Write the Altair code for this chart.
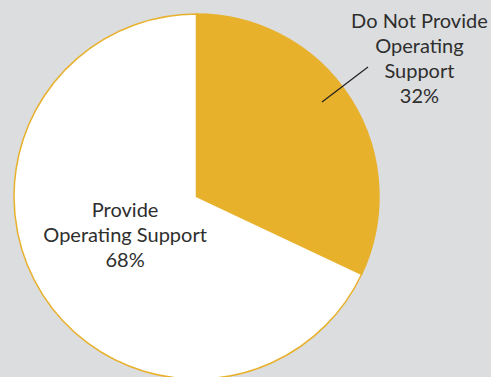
import altair as alt
import pandas as pd

categories = ["Do Not Provide Operating Support", "Provide Operating Support"]
values = [32, 68]
labels = ["Do Not Provide\nOperating\nSupport\n32%", "Provide\nOperating Support\n68%"]
colors = ["#e8b12c", "#ffffff"]

df = pd.DataFrame({"category": categories, "value": values, "label": labels, "order": [0, 1]})

base = alt.Chart(df).encode(
    theta=alt.Theta("value:Q", stack=True),
    order=alt.Order("order:Q"),
    x=alt.value(196.5),
    y=alt.value(196.5),
)

pie = base.mark_arc(radius=182.5, stroke="#e8b12c", strokeWidth=1.5).encode(
    color=alt.Color("category:N", scale=alt.Scale(domain=categories, range=colors), legend=None)
)

txt_style = dict(font="Lato", fontSize=20, color="#2e2e2e", lineBreak="\n", lineHeight=25,
                 align="center", baseline="middle")

t1 = base.mark_text(radius=264, dy=-33, **txt_style).encode(
    text=alt.condition(alt.datum.category == categories[0], "label:N", alt.value(""))
)
t2 = base.mark_text(radius=81, dy=-29, dx=-3, **txt_style).encode(
    text=alt.condition(alt.datum.category == categories[1], "label:N", alt.value(""))
)

leader = alt.Chart(pd.DataFrame({"a": [0]})).mark_rule(color="#222222", strokeWidth=1.2).encode(
    x=alt.value(322), y=alt.value(102), x2=alt.value(368), y2=alt.value(67)
)

chart = alt.layer(pie, t1, t2, leader).properties(
    width=491, height=377, padding=0, autosize=alt.AutoSizeParams(type="none"),
    background="#dcdddf"
).configure_view(stroke=None, fill="#dcdddf")

chart.save("out.html", embed_options={"renderer": "svg", "actions": False})
